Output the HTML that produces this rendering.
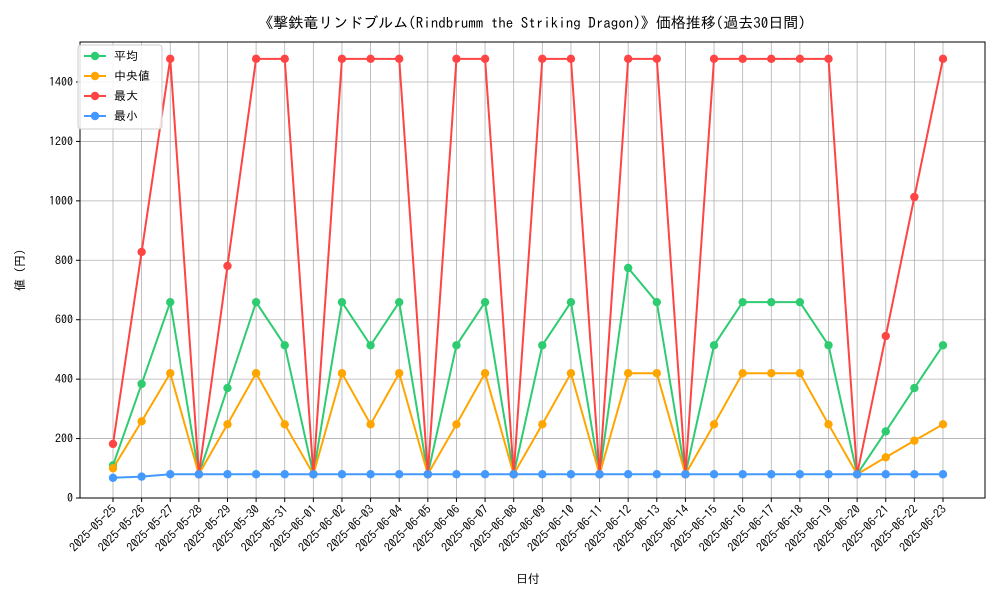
<!DOCTYPE html>
<html><head><meta charset="utf-8"><style>
body{margin:0;background:#fff;}
svg text{font-family:"IPAGothic","Liberation Mono","Noto Sans CJK JP",monospace;fill:#000;}
</style></head><body>
<svg id="chart" width="1000" height="600" xmlns="http://www.w3.org/2000/svg">
<rect width="1000" height="600" fill="#fff"/>
<text x="532" y="28" font-size="15" text-anchor="middle">《撃鉄竜リンドブルム(Rindbrumm the Striking Dragon)》価格推移(過去30日間)</text>
<g id="grid"></g><g id="axes"></g><g id="series"></g>
<text x="528" y="583" font-size="12" text-anchor="middle">日付</text>
<text transform="translate(24,270) rotate(-90)" font-size="12" text-anchor="middle">値 (円)</text>
<g id="legend"></g>
</svg>
<script>
const dates=["2025-05-25","2025-05-26","2025-05-27","2025-05-28","2025-05-29","2025-05-30","2025-05-31","2025-06-01","2025-06-02","2025-06-03","2025-06-04","2025-06-05","2025-06-06","2025-06-07","2025-06-08","2025-06-09","2025-06-10","2025-06-11","2025-06-12","2025-06-13","2025-06-14","2025-06-15","2025-06-16","2025-06-17","2025-06-18","2025-06-19","2025-06-20","2025-06-21","2025-06-22","2025-06-23"];
const avgValues=[110,384,659,80,370,659,514,80,659,514,659,80,514,659,80,514,659,80,774,659,80,514,659,659,659,514,80,224,370,514];
const medianValues=[100,258,420,80,248,420,248,80,420,248,420,80,248,420,80,248,420,80,420,420,80,248,420,420,420,248,80,137,193,248];
const maxValues=[182,828,1478,80,781,1478,1478,80,1478,1478,1478,80,1478,1478,80,1478,1478,80,1478,1478,80,1478,1478,1478,1478,1478,80,545,1013,1478];
const minValues=[68,72,80,80,80,80,80,80,80,80,80,80,80,80,80,80,80,80,80,80,80,80,80,80,80,80,80,80,80,80];
const yTicks=[0,200,400,600,800,1000,1200,1400];
const seriesNames=["平均","中央値","最大","最小"];
const L=80,R=985,T=42,B=498;
const xs=i=>113+i*(943-113)/(dates.length-1);
const ys=v=>B-v*(416/1400);
const NS="http://www.w3.org/2000/svg";
function mk(tag,attrs,parent){const e=document.createElementNS(NS,tag);for(const k in attrs)e.setAttribute(k,attrs[k]);parent.appendChild(e);return e;}
const grid=document.getElementById('grid'),axes=document.getElementById('axes'),ser=document.getElementById('series'),leg=document.getElementById('legend');
dates.forEach((d,i)=>{const x=xs(i);
 const g=mk('line',{x1:x,x2:x,y1:T,y2:B,stroke:'#b0b0b0','stroke-width':0.8},grid);
 
 
 mk('line',{x1:x,x2:x,y1:B,y2:B+4,stroke:'#000'},axes);
 const t=mk('text',{transform:`translate(${x+4},${B+12}) rotate(-45)`,'font-size':12,'text-anchor':'end'},axes);
 t.textContent=d;
 
 
});
yTicks.forEach(v=>{const y=ys(v);
 const g=mk('line',{x1:L,x2:R,y1:y,y2:y,stroke:'#b0b0b0','stroke-width':0.8},grid);
 
 
 mk('line',{x1:L-4,x2:L,y1:y,y2:y,stroke:'#000'},axes);
 const t=mk('text',{x:L-7,y:y+4,'font-size':12,'text-anchor':'end'},axes);
 t.textContent=v;
 
 
});
const frame=mk('rect',{x:L,y:T,width:R-L,height:B-T,fill:'none',stroke:'#000','stroke-width':1},axes);


const all=[avgValues,medianValues,maxValues,minValues];
const colors=["#2ecc71","#ffa500","#ff4444","#4499ff"];
const keys=["avg","median","max","min"];
all.forEach((arr,s)=>{
 const p=mk('polyline',{points:arr.map((v,i)=>xs(i)+','+ys(v)).join(' '),fill:'none',stroke:colors[s],'stroke-width':2},ser);
 
 
 arr.forEach((v,i)=>{const c=mk('circle',{cx:xs(i),cy:ys(v),r:4.2,fill:colors[s]},ser);
  
  });
});
const lb=mk('rect',{x:78,y:45,width:84,height:84,rx:3,fill:'#fff','fill-opacity':0.85,stroke:'#ccc'},leg);


seriesNames.forEach((n,s)=>{const y=56+s*20;
 const g=mk('g',{},leg);
 
 
 mk('line',{x1:84,x2:106,y1:y,y2:y,stroke:colors[s],'stroke-width':2},g);
 mk('circle',{cx:95,cy:y,r:4.2,fill:colors[s]},g);
 const t=mk('text',{x:114,y:y+4,'font-size':12},g);t.textContent=n;
});
</script>
</body></html>
